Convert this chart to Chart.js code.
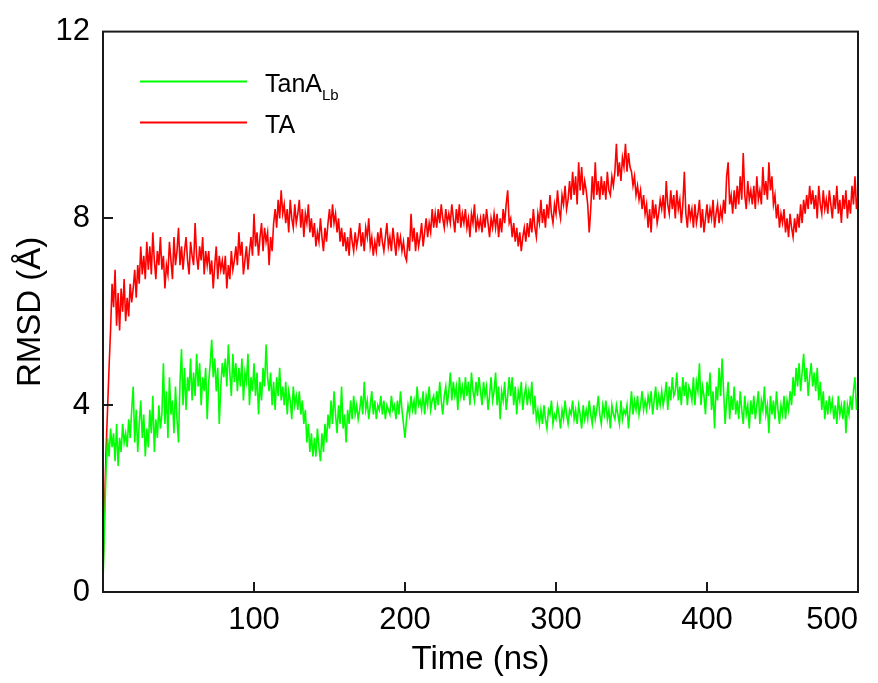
<!DOCTYPE html>
<html>
<head>
<meta charset="utf-8">
<title>RMSD</title>
<script src="https://cdn.jsdelivr.net/npm/chart.js@4.4.1/dist/chart.umd.min.js"></script>
<style>
  html, body { margin: 0; padding: 0; background: #fff; }
  #wrap { width: 878px; height: 683px; }
</style>
</head>
<body>
<div id="wrap"><canvas id="rmsdChart" width="878" height="683"></canvas></div>
<script>
// one frame per ns, 0 .. 500 ns
const frameStepNs = 1;
const timeMin = 0;
const timeMax = 500;
const xTickValues = [0, 100, 200, 300, 400, 500];
const yTickValues = [0, 4, 8, 12];

const seriesNames = ['TanA', 'TA'];

// RMSD (Å), TanA_Lb
const rmsdTanALb = [
  0.2,1.4,2.6,3.3,2.9,3.5,3.1,3.4,2.8,3.6,
  2.7,3.3,3.0,3.6,3.2,3.4,3.1,3.7,3.3,3.9,
  4.4,3.2,3.9,3.0,3.6,4.1,3.3,3.8,2.9,3.5,
  3.1,3.9,3.4,4.2,3.0,3.7,3.3,4.0,3.5,3.8,
  4.9,3.6,4.3,3.3,4.6,3.8,4.1,3.4,4.4,3.7,
  3.2,4.5,5.2,4.0,4.8,3.9,4.6,4.3,5.0,4.1,
  4.7,4.2,5.1,4.4,4.9,4.0,4.6,4.3,4.8,3.7,
  4.5,4.9,5.4,4.6,5.0,4.3,4.8,3.6,4.4,4.9,
  4.6,5.0,4.4,5.3,4.7,4.2,5.1,4.5,4.9,4.3,
  4.8,4.4,5.0,4.1,4.7,4.5,5.1,4.0,4.6,4.3,
  4.9,4.2,4.7,3.8,4.5,4.1,4.8,4.4,5.3,4.6,
  4.3,4.7,4.0,4.5,3.9,4.6,4.2,4.8,4.1,4.4,
  4.0,4.5,3.8,4.3,4.1,3.7,4.4,4.0,4.2,3.9,
  4.3,3.8,4.1,3.6,3.9,3.2,3.6,3.0,3.4,2.9,
  3.3,2.9,3.5,3.1,2.8,3.4,3.0,3.6,3.2,3.8,
  3.5,4.1,3.6,4.3,3.8,3.4,4.0,3.6,4.4,3.5,
  3.8,3.2,3.9,3.6,4.1,3.7,4.2,3.8,4.0,3.7,
  3.9,4.2,3.8,4.5,3.9,4.1,3.7,4.0,4.3,3.8,
  4.1,3.7,4.0,3.9,4.2,3.8,4.1,3.7,4.0,3.9,
  3.8,4.2,3.9,4.0,3.7,4.1,3.8,4.3,3.9,3.6,
  3.3,3.7,4.0,3.8,4.2,3.9,4.1,3.8,4.4,4.0,
  4.1,3.9,4.3,3.8,4.2,4.0,4.4,3.9,4.1,4.2,
  3.9,4.3,4.0,4.5,4.1,3.8,4.2,4.4,4.0,4.3,
  4.7,4.1,4.5,4.2,4.4,3.9,4.6,4.2,4.4,4.1,
  4.6,4.2,4.5,4.0,4.7,4.3,4.1,4.5,4.2,4.6,
  4.3,4.0,4.5,4.2,4.4,3.9,4.2,4.6,4.1,4.3,
  4.7,4.0,4.4,3.7,4.3,4.1,4.5,3.9,4.2,4.6,
  4.2,4.6,4.0,4.4,3.8,4.3,4.1,4.5,3.9,4.2,
  4.4,4.0,4.3,4.1,4.5,3.8,4.2,3.7,3.9,3.6,
  3.9,3.6,4.0,3.7,3.5,3.9,3.8,4.1,3.6,3.8,
  3.7,4.0,3.8,3.5,3.9,3.7,4.1,3.8,3.6,3.9,
  3.8,4.1,3.7,3.9,3.6,4.0,3.8,3.5,4.0,3.7,
  3.9,3.7,4.1,3.8,3.6,4.0,3.7,3.9,4.2,3.8,
  3.6,4.0,3.8,4.1,3.7,3.9,3.5,4.0,3.8,3.7,
  4.0,3.8,3.6,4.1,3.7,3.9,3.8,4.0,3.5,3.9,
  4.3,3.8,4.1,3.9,4.2,3.8,4.0,4.3,3.9,4.1,
  3.9,4.2,4.0,4.3,3.8,4.1,4.4,3.9,4.2,4.0,
  4.3,4.0,4.2,4.5,3.9,4.4,4.1,4.6,4.2,4.3,
  4.7,4.1,4.4,4.0,4.6,4.2,4.5,4.0,4.4,4.3,
  4.1,4.6,4.0,4.5,4.3,4.9,4.0,4.4,4.2,3.8,
  4.5,4.2,4.7,3.9,4.3,3.5,4.4,4.1,4.8,4.2,
  5.0,4.3,3.6,4.1,4.5,3.7,4.2,3.9,4.4,3.8,
  4.1,3.7,4.3,3.9,3.6,4.2,3.8,4.0,3.5,4.1,
  3.8,4.2,3.7,4.0,4.3,3.6,4.1,3.9,4.4,3.8,
  4.0,3.4,4.2,3.8,4.1,3.7,4.3,3.9,3.6,4.0,
  3.8,4.2,3.7,4.1,3.9,4.3,4.0,4.6,4.2,4.8,
  4.4,4.9,4.3,4.7,5.1,4.5,4.8,4.2,4.6,4.9,
  4.4,4.7,4.3,4.8,4.1,4.5,3.9,4.3,3.7,4.1,
  3.8,4.2,3.9,4.1,3.7,4.0,3.6,4.2,3.8,4.0,
  3.7,4.1,3.4,4.0,3.8,4.2,3.9,4.3,4.6,3.9,4.2
];

// RMSD (Å), TA
const rmsdTA = [
  0.4,1.8,3.0,3.9,4.8,5.6,6.6,6.1,6.9,5.7,
  6.4,5.6,6.5,6.0,6.7,5.8,6.3,5.9,6.6,6.2,
  6.5,6.9,6.3,7.0,6.6,7.4,6.8,7.2,6.7,7.5,
  6.9,7.4,6.8,7.7,7.1,6.7,7.3,7.0,7.6,6.9,
  7.2,6.5,7.0,6.8,7.5,7.1,6.7,7.6,7.0,7.3,
  7.8,7.0,7.4,6.9,7.3,7.6,7.1,6.8,7.5,7.2,
  7.0,7.9,7.2,6.9,7.4,7.1,7.6,6.8,7.3,7.0,
  7.3,6.8,7.1,6.5,7.0,7.4,6.7,7.2,6.9,7.1,
  6.8,7.2,6.5,7.0,6.7,7.3,6.9,7.1,7.4,7.0,
  7.7,7.2,7.5,6.8,7.1,7.4,6.9,7.3,7.6,7.2,
  8.1,7.4,7.7,7.2,7.6,7.9,7.3,7.8,7.5,7.7,
  7.0,7.6,7.3,7.9,8.2,7.8,8.4,8.0,8.6,8.1,
  8.3,7.9,8.2,7.7,8.4,8.0,7.8,8.3,7.9,8.1,
  8.4,7.8,8.2,7.6,8.1,7.9,8.3,7.7,8.0,7.6,
  7.9,7.4,7.7,7.5,8.0,7.6,7.3,7.8,7.5,7.9,
  8.2,7.8,8.3,7.9,8.1,7.7,8.0,7.5,7.8,7.4,
  7.7,7.3,7.6,7.2,7.8,7.5,7.3,7.7,7.4,7.6,
  7.9,7.4,7.7,7.3,7.8,7.6,8.0,7.4,7.6,7.2,
  7.5,7.3,7.7,7.4,7.8,7.5,7.3,7.6,7.9,7.4,
  7.6,7.3,7.8,7.5,7.2,7.7,7.4,7.6,7.3,7.5,
  7.2,7.1,7.6,7.3,8.1,7.5,7.8,7.3,7.7,7.4,
  7.6,7.9,7.4,7.7,8.0,7.6,7.9,7.7,8.2,7.8,
  8.1,7.8,8.2,7.9,8.3,8.0,7.8,8.2,7.9,8.1,
  7.9,8.3,8.0,7.7,8.2,7.9,8.3,7.8,8.1,7.9,
  8.2,7.8,8.0,7.6,8.1,7.9,8.3,7.7,8.0,7.8,
  8.0,7.7,8.1,7.8,8.2,7.9,7.6,8.0,7.8,8.1,
  7.8,8.1,7.6,8.0,7.7,8.2,7.9,8.3,8.6,7.9,
  8.0,7.6,7.9,7.5,7.8,7.4,7.7,7.3,7.6,7.8,
  7.5,7.9,7.6,8.0,7.7,8.2,7.8,7.6,8.1,7.9,
  8.4,7.9,8.2,7.8,8.3,8.0,8.5,8.1,7.9,8.3,
  8.1,8.6,8.2,8.0,8.5,8.3,8.7,8.2,8.4,8.8,
  8.4,9.0,8.5,8.9,8.3,9.2,8.6,9.1,8.5,8.8,
  8.6,8.3,7.7,8.2,8.9,8.4,9.2,8.5,8.8,8.4,
  8.9,8.5,8.8,8.4,9.0,8.6,8.5,8.9,8.7,9.0,
  9.6,8.9,9.2,8.8,9.3,9.1,9.6,9.0,9.4,9.1,
  9.0,8.7,8.9,8.5,8.7,8.4,8.6,8.2,8.5,8.1,
  8.3,7.8,8.2,7.7,8.4,8.0,8.3,7.9,8.1,8.4,
  8.2,8.5,8.0,8.8,8.3,8.1,8.6,8.2,8.5,8.0,
  8.6,8.2,8.4,7.9,8.3,9.0,8.1,7.8,8.3,8.0,
  8.2,7.8,8.3,7.9,8.1,8.4,7.8,8.2,7.7,8.0,
  8.3,7.9,8.2,8.0,8.4,7.8,8.1,8.3,7.9,8.2,
  8.0,8.4,8.1,8.9,9.2,8.3,8.5,8.1,8.6,8.2,
  8.7,8.3,8.9,8.4,9.4,8.5,8.2,8.8,8.4,8.6,
  8.3,8.7,8.2,8.9,8.4,8.6,8.3,9.1,8.5,8.8,
  8.4,9.2,8.6,8.9,8.3,8.5,8.0,8.3,7.8,8.1,
  7.9,8.2,7.7,8.0,7.6,8.1,7.8,7.6,8.0,7.7,
  8.1,7.8,8.3,7.9,8.4,8.1,8.5,8.2,8.7,8.3,
  8.6,8.2,8.5,8.0,8.7,8.3,8.1,8.6,8.2,8.4,
  8.1,8.6,8.3,8.0,8.5,8.2,8.7,8.1,8.4,7.9,
  8.5,8.2,8.6,8.0,8.4,8.1,8.7,8.3,8.9,8.2,8.5
];

const FONT = '"Liberation Sans", Arial, sans-serif';

function toPoints(values) {
  return values.map((v, i) => ({ x: timeMin + i * frameStepNs, y: v }));
}

// frame + inward ticks like Origin
const framePlugin = {
  id: 'frame',
  afterDatasetsDraw(chart) {
    const { ctx, chartArea: a, scales } = chart;
    ctx.save();
    ctx.strokeStyle = '#1a1a1a';
    ctx.lineWidth = 2;
    ctx.strokeRect(a.left, a.top, a.right - a.left, a.bottom - a.top);
    ctx.beginPath();
    yTickValues.slice(1, -1).forEach(v => {
      const y = Math.round(scales.y.getPixelForValue(v));
      ctx.moveTo(a.left, y);
      ctx.lineTo(a.left + 10, y);
    });
    xTickValues.slice(1, -1).forEach(v => {
      const x = Math.round(scales.x.getPixelForValue(v));
      ctx.moveTo(x, a.bottom);
      ctx.lineTo(x, a.bottom - 10);
    });
    ctx.stroke();
    ctx.restore();
  }
};

// legend with subscript, drawn by hand
const legendPlugin = {
  id: 'subLegend',
  afterDraw(chart) {
    const { ctx, chartArea: a } = chart;
    const x0 = a.left + 37, x1 = a.left + 144, tx = a.left + 162;
    const rows = [
      { color: chart.data.datasets[0].borderColor, y: a.top + 50, name: seriesNames[0], sub: 'Lb' },
      { color: chart.data.datasets[1].borderColor, y: a.top + 91, name: seriesNames[1], sub: '' }
    ];
    ctx.save();
    rows.forEach(r => {
      ctx.strokeStyle = r.color;
      ctx.lineWidth = 2;
      ctx.beginPath();
      ctx.moveTo(x0, r.y);
      ctx.lineTo(x1, r.y);
      ctx.stroke();
      ctx.fillStyle = '#000';
      ctx.textBaseline = 'alphabetic';
      ctx.textAlign = 'left';
      ctx.font = '25px ' + FONT;
      ctx.fillText(r.name, tx, r.y + 10);
      if (r.sub) {
        const w = ctx.measureText(r.name).width;
        ctx.font = '15px ' + FONT;
        ctx.fillText(r.sub, tx + w, r.y + 18);
      }
    });
    ctx.restore();
  }
};

new Chart(document.getElementById('rmsdChart'), {
  type: 'line',
  data: {
    datasets: [
      {
        label: 'TanA_Lb',
        data: toPoints(rmsdTanALb),
        borderColor: '#00ff00',
        borderWidth: 1.6,
        pointRadius: 0,
        tension: 0
      },
      {
        label: 'TA',
        data: toPoints(rmsdTA),
        borderColor: '#ff0000',
        borderWidth: 1.6,
        pointRadius: 0,
        tension: 0
      }
    ]
  },
  options: {
    responsive: false,
    devicePixelRatio: 1,
    animation: false,
    events: [],
    layout: { padding: { top: 30, right: 20, left: 0, bottom: 0 } },
    plugins: {
      legend: { display: false },
      tooltip: { enabled: false }
    },
    scales: {
      x: {
        type: 'linear',
        min: timeMin,
        max: timeMax,
        afterBuildTicks: s => { s.ticks = xTickValues.map(v => ({ value: v })); },
        afterFit: s => { s.height = 91; },
        grid: { display: false, drawTicks: false },
        border: { display: false },
        ticks: {
          padding: 10,
          align: 'inner',
          color: '#000',
          font: { family: FONT, size: 31, lineHeight: 1.2 },
          callback: v => (v === 0 ? '' : String(v))
        },
        title: {
          display: true,
          text: 'Time (ns)',
          color: '#000',
          font: { family: FONT, size: 33, lineHeight: 1.2 },
          padding: { top: 0, bottom: 3 }
        }
      },
      y: {
        min: 0,
        max: 12,
        afterBuildTicks: s => { s.ticks = yTickValues.map(v => ({ value: v })); },
        afterFit: s => { s.width = 103; },
        grid: { display: false, drawTicks: false },
        border: { display: false },
        ticks: {
          padding: 13,
          color: '#000',
          font: { family: FONT, size: 31, lineHeight: 1.2 }
        },
        title: {
          display: true,
          text: 'RMSD (Å)',
          color: '#000',
          font: { family: FONT, size: 33, lineHeight: 1.2 },
          padding: { top: 11, bottom: 0 }
        }
      }
    }
  },
  plugins: [framePlugin, legendPlugin]
});
</script>
</body>
</html>
